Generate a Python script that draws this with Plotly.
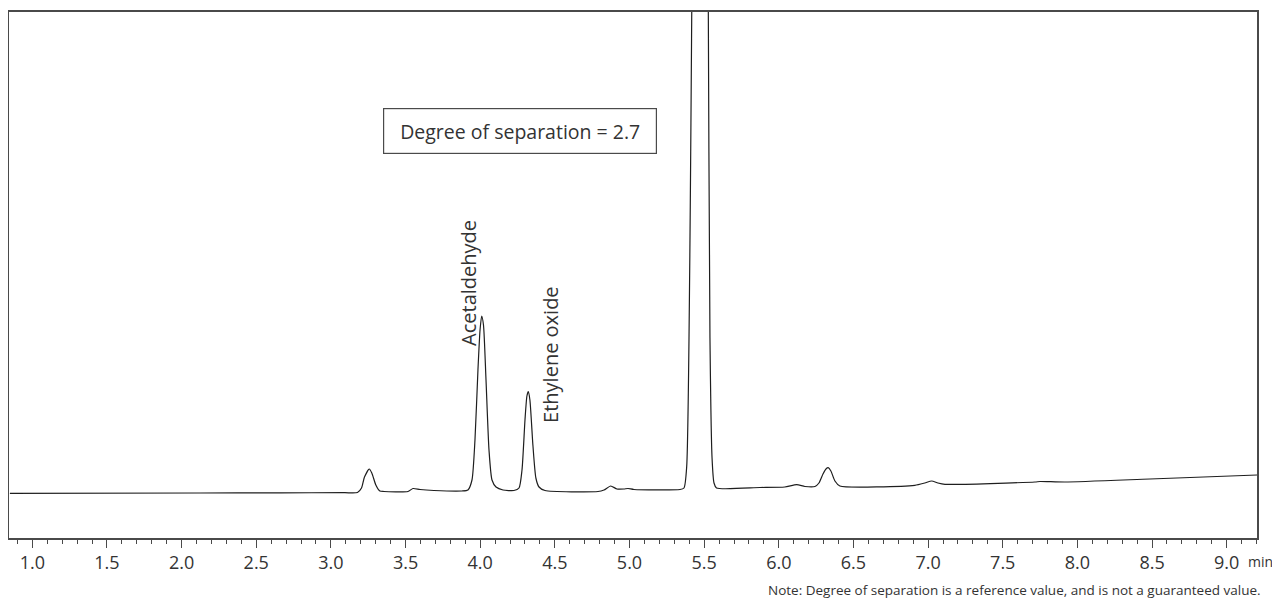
import plotly.graph_objects as go

# Chromatogram trace (retention time in min, detector signal in arbitrary units)
time_min = [0.85, 2.124, 2.66, 3.093, 3.178, 3.205, 3.225, 3.257, 3.274, 3.301, 3.328, 3.355,
            3.516, 3.55, 3.597, 3.69, 3.878, 3.918, 3.945, 3.965, 3.985, 3.999, 4.010, 4.022,
            4.039, 4.059, 4.079, 4.106, 4.153, 4.226, 4.260, 4.280, 4.300, 4.313, 4.322, 4.333,
            4.353, 4.373, 4.394, 4.434, 4.789, 4.829, 4.874, 4.916, 4.963, 4.990, 5.03, 5.338,
            5.365, 5.383, 5.417, 5.469, 5.528, 5.539, 5.553, 5.566, 5.583, 5.874, 6.04, 6.12,
            6.175, 6.242, 6.269, 6.296, 6.316, 6.331, 6.349, 6.376, 6.409, 6.911, 6.978, 7.024,
            7.066, 7.113, 7.716, 7.749, 7.917, 8.486, 9.203]
signal = [44.7, 45.0, 45.2, 45.3, 45.5, 50, 61, 69, 65, 53, 47, 46.5,
          46.5, 49.5, 48.5, 47.5, 47, 48, 58, 98, 168, 208, 222, 213,
          158, 88, 58, 51, 48, 47.5, 50, 68, 118, 142, 146.3, 138,
          93, 60, 51, 47.5, 46.5, 48, 52, 49, 49, 49.5, 48.5, 48.5,
          50, 71, 526, 3000, 526, 200, 80, 55, 50, 50.5, 51, 53.3,
          51.5, 51.5, 55, 64, 69, 70.3, 67, 57, 52, 52.7, 55, 57,
          55, 53.7, 56, 56.5, 56, 59, 63]

peak_names = ["Acetaldehyde", "Ethylene oxide"]
peak_label_x = [3.918, 4.467]
peak_label_y = [255, 184]

x_range = [0.844, 9.203]
y_range = [0, 526]

axis_color = "#4a4a4a"
text_color = "#333333"
font_family = "Open Sans, Noto Sans, sans-serif"

fig = go.Figure()
fig.add_trace(go.Scatter(x=time_min, y=signal, mode="lines",
                         line=dict(color="#1e1e1e", width=1.2, shape="spline", smoothing=0.6),
                         hoverinfo="skip", showlegend=False))

fig.update_xaxes(range=x_range, showline=True, mirror=True, linecolor=axis_color, linewidth=1.5,
                 showgrid=False, zeroline=False, ticks="outside", ticklen=8, tickwidth=1.2,
                 tickcolor=axis_color, tick0=0, dtick=0.5, tickformat=".1f",
                 tickfont=dict(family=font_family, size=18, color=text_color),
                 minor=dict(ticks="outside", ticklen=4, tickwidth=1.2, tickcolor=axis_color,
                            dtick=0.1, tick0=0, showgrid=False))
fig.update_yaxes(range=y_range, showline=True, mirror=True, linecolor=axis_color, linewidth=1.5,
                 showgrid=False, zeroline=False, showticklabels=False, ticks="")

for name, lx, ly in zip(peak_names, peak_label_x, peak_label_y):
    fig.add_annotation(x=lx, y=ly, text=name, textangle=-90, showarrow=False,
                       xanchor="center", yanchor="middle",
                       font=dict(family=font_family, size=20, color=text_color))

fig.add_annotation(x=4.267, y=407, text="Degree of separation = 2.7", showarrow=False,
                   xanchor="center", yanchor="middle", width=258, height=30,
                   bordercolor=axis_color, borderwidth=1.2, borderpad=7, bgcolor="white",
                   font=dict(family=font_family, size=19.5, color=text_color))

fig.add_annotation(xref="paper", yref="paper", x=0.9912, y=-0.0456, text="min", showarrow=False,
                   xanchor="left", yanchor="middle",
                   font=dict(family=font_family, size=14, color=text_color))
fig.add_annotation(xref="paper", yref="paper", x=1.0048, y=-0.0989,
                   text="Note: Degree of separation is a reference value, and is not a guaranteed value.",
                   showarrow=False, xanchor="right", yanchor="middle",
                   font=dict(family=font_family, size=13.5, color=text_color))

# the page body has an 8 px margin; the figure is sized so the page fits the window without scrollbars
fig.update_layout(width=1264, height=594,
                  margin=dict(l=1, r=15, t=4, b=64, autoexpand=False),
                  plot_bgcolor="white", paper_bgcolor="white", showlegend=False)

fig.write_html("out.html")
